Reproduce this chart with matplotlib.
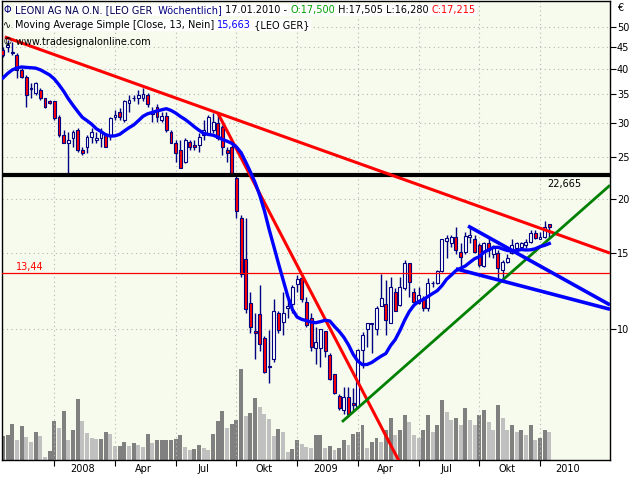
import numpy as np
import pandas as pd
import matplotlib
matplotlib.use('Agg')
import matplotlib.pyplot as plt
from matplotlib.transforms import IdentityTransform


# Wochenkerzen LEONI AG (LEO GER), Okt 2007 - Jan 2010
dates = pd.date_range('2007-10-19', periods=118, freq='W-FRI')

opens = [44.2, 45.0, 43.5, 43.1, 39.8, 38.3, 36.1, 35.1, 35.7, 34.3,
         33.6, 33.6, 31.0, 28.1, 26.9, 27.6, 28.9, 26.0, 26.3, 27.8,
         27.4, 27.6, 28.1, 28.1, 31.0, 31.8, 30.5, 33.4, 34.3, 34.2,
         34.3, 34.8, 31.7, 32.6, 30.5, 31.1, 28.6, 26.9, 26.0, 24.3,
         27.1, 26.7, 26.7, 28.1, 28.4, 28.8, 30.0, 29.3, 26.0, 26.4,
         22.4, 18.1, 14.5, 11.5, 9.9, 10.8, 9.5, 8.2, 8.5, 10.9,
         10.35, 11.2, 11.4, 12.7, 13.1, 11.55, 10.6, 9.05, 9.05, 9.9,
         8.7, 7.85, 7.0, 6.5, 6.95, 6.75, 6.6, 8.95, 10.0, 10.25,
         10.0, 11.3, 11.4, 10.3, 12.2, 11.35, 12.4, 14.2, 12.2, 11.5,
         11.8, 11.2, 12.75, 12.8, 13.6, 16.0, 15.8, 16.3, 15.1, 15.05,
         16.3, 16.1, 15.6, 14.0, 15.8, 14.9, 15.0, 13.7, 14.3, 15.0,
         15.4, 15.5, 15.6, 15.9, 16.7, 16.1, 16.3, 17.5]
highs = [44.9, 46.7, 46.2, 43.5, 40.2, 38.7, 37.0, 37.2, 36.1, 34.3,
         33.9, 33.7, 31.3, 28.9, 28.6, 28.9, 29.2, 26.3, 28.1, 29.2,
         28.6, 29.2, 28.4, 31.0, 32.1, 32.5, 33.9, 34.8, 34.8, 35.7,
         36.1, 35.1, 32.6, 33.2, 31.8, 31.8, 28.9, 27.4, 27.4, 27.7,
         27.4, 27.4, 28.4, 30.5, 31.3, 31.6, 31.6, 29.7, 26.3, 26.7,
         22.7, 18.3, 18.1, 12.2, 10.9, 12.6, 9.6, 9.95, 11.7, 11.0,
         12.2, 11.8, 12.6, 13.3, 13.25, 11.85, 10.9, 10.1, 10.0, 9.9,
         8.8, 7.85, 7.05, 7.35, 7.35, 7.3, 9.0, 9.85, 10.3, 10.3,
         11.3, 13.4, 13.0, 13.2, 12.45, 13.2, 14.4, 14.2, 12.45, 12.5,
         11.9, 13.1, 12.9, 13.7, 16.1, 16.5, 16.5, 17.2, 15.8, 16.8,
         17.2, 16.5, 15.8, 15.9, 16.2, 15.6, 15.2, 14.4, 14.9, 16.1,
         15.9, 15.9, 16.1, 16.9, 16.9, 16.8, 17.75, 17.505]
lows = [42.5, 43.8, 43.0, 38.1, 38.1, 32.6, 34.2, 34.8, 33.9, 32.5,
        33.2, 30.5, 27.8, 26.9, 22.6, 26.4, 25.7, 25.3, 25.5, 26.9,
        26.9, 26.4, 26.3, 27.4, 30.5, 30.5, 30.1, 31.8, 33.6, 33.2,
        33.6, 32.6, 30.1, 30.1, 30.1, 28.6, 26.9, 24.3, 23.6, 24.2,
        26.0, 26.0, 25.7, 27.4, 28.1, 28.4, 27.4, 25.3, 24.3, 22.7,
        18.1, 13.2, 10.9, 9.8, 8.5, 8.9, 7.9, 7.5, 8.4, 9.8,
        9.7, 10.6, 10.9, 12.2, 11.55, 10.1, 8.9, 8.3, 8.15, 8.6,
        7.6, 7.05, 6.5, 6.35, 6.25, 6.5, 6.55, 8.1, 9.1, 8.8,
        9.7, 11.3, 9.7, 10.3, 11.0, 11.3, 12.3, 11.85, 11.4, 11.4,
        11.0, 11.0, 12.5, 12.7, 13.55, 14.6, 15.5, 14.9, 13.9, 14.9,
        15.8, 15.0, 13.9, 13.9, 14.7, 14.6, 13.0, 13.0, 14.2, 14.9,
        15.0, 15.2, 15.4, 15.8, 16.1, 16.1, 16.2, 16.28]
closes = [43.1, 45.5, 43.8, 39.8, 38.3, 34.8, 36.0, 37.0, 34.3, 32.6,
          33.4, 30.8, 28.1, 26.9, 27.4, 28.6, 26.0, 25.5, 27.8, 28.6,
          27.7, 28.6, 26.4, 30.8, 31.3, 31.0, 33.6, 33.9, 34.2, 34.8,
          35.0, 33.2, 31.5, 31.0, 31.1, 28.9, 26.9, 25.5, 23.6, 27.4,
          26.4, 26.3, 27.8, 28.9, 31.0, 30.1, 27.6, 26.4, 25.5, 23.0,
          18.7, 13.4, 11.1, 10.1, 9.8, 9.2, 7.95, 8.15, 11.0, 9.95,
          10.9, 11.3, 12.5, 13.05, 11.7, 10.2, 9.1, 9.3, 10.0, 8.9,
          7.65, 7.1, 6.55, 6.95, 6.35, 6.65, 8.95, 9.7, 10.3, 10.3,
          11.2, 11.8, 10.5, 12.5, 11.0, 12.5, 14.2, 12.85, 11.55, 12.0,
          11.2, 12.8, 12.8, 13.6, 16.1, 16.2, 16.3, 15.2, 14.7, 16.4,
          16.5, 15.1, 14.05, 15.8, 15.2, 15.4, 13.85, 14.3, 14.6, 15.6,
          15.8, 15.8, 15.9, 16.7, 16.2, 16.3, 17.2, 17.215]
# Schlusskurse der 12 Wochen davor (nur fuer den gleitenden Durchschnitt)
pre_closes = [33.5, 34.0, 34.5, 35.5, 36.0, 37.0, 38.0, 39.0, 39.5, 40.5, 41.5, 43.0]
# Volumen (geschaetzt, relative Einheiten)
volumes = [24, 25, 36, 20, 34, 23, 18, 28, 24, 3,
           9, 39, 32, 49, 20, 30, 61, 39, 27, 22,
           21, 21, 28, 26, 14, 14, 18, 14, 17, 15,
           13, 26, 17, 20, 20, 20, 20, 21, 25, 13,
           10, 11, 15, 12, 10, 26, 39, 49, 32, 36,
           40, 91, 44, 47, 62, 53, 46, 41, 24, 31,
           28, 8, 11, 20, 16, 13, 12, 25, 25, 12,
           14, 10, 12, 20, 15, 26, 28, 35, 12, 18,
           22, 18, 30, 42, 25, 30, 45, 38, 25, 22,
           30, 45, 28, 35, 60, 48, 40, 42, 35, 52,
           40, 35, 45, 50, 38, 30, 55, 42, 30, 35,
           28, 30, 25, 35, 20, 22, 30, 28]

# Linien (Balkenindex, Kurs)
trend_red_long = [(0.4, 47.4), (130, 14.97)]
trend_red_steep = [(46, 31.6), (85, 4.9)]
trend_green = [(72.6, 6.09), (130, 21.5)]
channel_blue_top = [(99.6, 17.3), (130, 11.36)]
channel_blue_low = [(97, 13.77), (130, 11.1)]
resistance = 22.665
support = 13.44
y_ticks = [10, 15, 20, 25, 30, 35, 40, 45, 50]

idx = np.arange(len(closes))
ma = pd.Series(pre_closes + closes).rolling(13).mean().iloc[12:].values

navy = '#000080'
bg = '#f7fbee'
fs = 7.0

fig = plt.figure(figsize=(6.4, 4.8), dpi=100)
vax = fig.add_axes([2 / 640, 20 / 480, 608 / 640, 459 / 480])
ax = fig.add_axes([2 / 640, 20 / 480, 608 / 640, 459 / 480], sharex=vax)
vax.set_facecolor(bg)
ax.patch.set_visible(False)

# Volumen
vcol = ['#808080' if i == 0 or volumes[i] >= volumes[i - 1] else '#c0c0c0' for i in idx]
vax.bar(idx, volumes, width=0.85, color=vcol, linewidth=0)
vax.set_ylim(0, 459)
vax.yaxis.set_visible(False)
vax.xaxis.set_visible(False)
for s in vax.spines.values():
    s.set_visible(False)

# Kerzen
ax.set_yscale('log')
ax.vlines(idx, lows, highs, color=navy, lw=1, zorder=2)
o = np.array(opens)
c = np.array(closes)
body_col = np.where(c < o, '#ff0000', '#ffffff')
bottom = np.minimum(o, c)
height = np.maximum(np.abs(c - o), 0.001)
ax.bar(idx, height, bottom=bottom, width=0.62, color=body_col, edgecolor=navy, lw=0.8, zorder=3)

# Linien
ax.axhline(resistance, color='black', lw=3, zorder=4)
ax.axhline(support, color='#ff0000', lw=0.9, zorder=4)
for line, col, w in [(trend_red_long, '#ff0000', 2.2), (trend_red_steep, '#ff0000', 2.2),
                     (trend_green, '#008000', 2.0), (channel_blue_top, '#0000ff', 2.6),
                     (channel_blue_low, '#0000ff', 2.6)]:
    xs, ys = zip(*line)
    ax.plot(xs, ys, color=col, lw=w, zorder=5, solid_capstyle='butt')
ax.plot(idx, ma, color='#0000ff', lw=2.4, zorder=5)

ax.annotate('22,665', (120.3, resistance), xytext=(0, -3), textcoords='offset points',
            ha='center', va='top', fontsize=fs, zorder=6)
ax.annotate('13,44', (5.8, support), xytext=(0, 1), textcoords='offset points',
            ha='center', va='bottom', fontsize=fs, color='#ff0000', zorder=6)

# Achsen
ax.set_xlim(-0.2, 130)
ax.set_ylim(4.97, 57.4)
ax.yaxis.tick_right()
ax.set_yticks(y_ticks, labels=[str(t) for t in y_ticks])
ax.yaxis.set_minor_locator(matplotlib.ticker.NullLocator())
ax.tick_params(axis='y', which='major', labelsize=fs, length=4, pad=1, direction='out')

q_start = [i for i in idx[1:] if dates[i].month in (1, 4, 7, 10) and dates[i].month != dates[i - 1].month]
q_names = {1: '', 4: 'Apr', 7: 'Jul', 10: 'Okt'}
q_labels = [str(dates[i].year) if dates[i].month == 1 else q_names[dates[i].month] for i in q_start]
ax.set_xticks(q_start, labels=[''] * len(q_start))
ax.set_xticks([i + 6 for i in q_start], labels=q_labels, minor=True)
ax.tick_params(axis='x', which='major', length=4, direction='out')
ax.tick_params(axis='x', which='minor', length=0, labelsize=fs, pad=3)

ax.grid(True, which='major', color='#b4b4b4', linestyle=(0, (1, 3)), lw=0.8)
for s in ax.spines.values():
    s.set_color('black')
    s.set_linewidth(1)

fig.text(617, 472, '€', transform=IdentityTransform(), fontsize=fs, va='center')

# Kopfzeilen
renderer = fig.canvas.get_renderer()


def write_line(x, y, parts, box=True):
    for s, col in parts:
        kw = dict(facecolor='white', edgecolor='none', pad=0.6) if box else None
        t = fig.text(x, y, s, color=col, transform=IdentityTransform(), fontsize=fs,
                     va='center', ha='left', bbox=kw, zorder=10)
        x = t.get_window_extent(renderer).x1


write_line(4, 470, [('Φ', navy)], box=False)
write_line(15, 470, [('LEONI AG NA O.N. [LEO GER', '#000050'), ('  Wöchentlich]', navy),
                     (' 17.01.2010 - ', 'black'), ('O:17,500', '#00a000'),
                     (' H:17,505 L:16,280 ', 'black'), ('C:17,215', '#ff0000')])
write_line(3, 455, [('∿', 'black')], box=False)
write_line(15, 455, [('Moving Average Simple [Close, 13, Nein] ', 'black'), ('15,663', '#0000ff'),
                     (' {LEO GER}', 'black')])
write_line(3, 438, [('© www.tradesignalonline.com', 'black')], box=False)

fig.savefig('out.png', dpi=100)
